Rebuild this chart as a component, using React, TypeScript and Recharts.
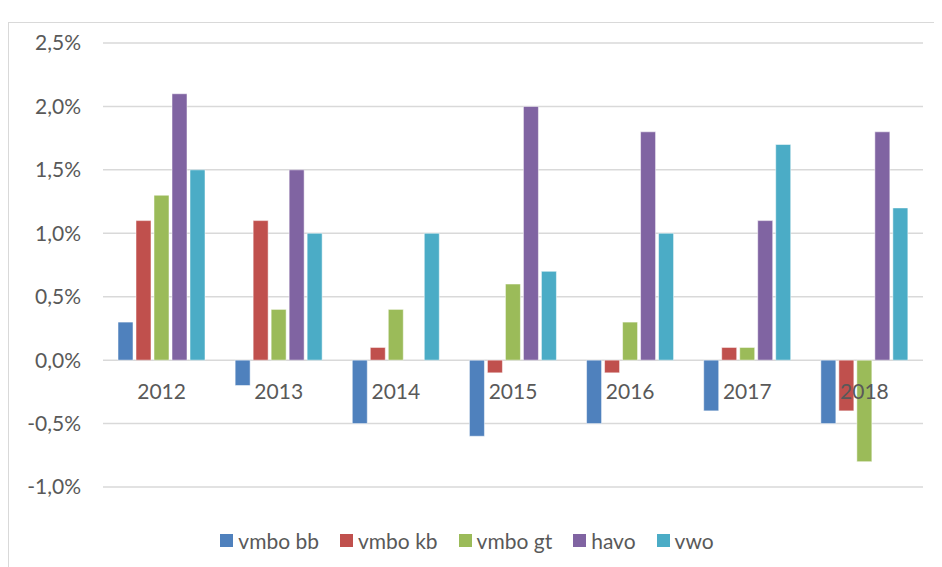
import { Bar, CartesianGrid, ComposedChart, LabelList, Line, XAxis, YAxis } from 'recharts';

const YEARS = ['2012', '2013', '2014', '2015', '2016', '2017', '2018'];

// change in percentage points
const VMBO_BB = [0.3, -0.2, -0.5, -0.6, -0.5, -0.4, -0.5];
const VMBO_KB = [1.1, 1.1, 0.1, -0.1, -0.1, 0.1, -0.4];
const VMBO_GT = [1.3, 0.4, 0.4, 0.6, 0.3, 0.1, -0.8];
const HAVO = [2.1, 1.5, 0, 2.0, 1.8, 1.1, 1.8];
const VWO = [1.5, 1.0, 1.0, 0.7, 1.0, 1.7, 1.2];

const Y_TICKS = [-1, -0.5, 0, 0.5, 1, 1.5, 2, 2.5];

const SERIES = [
  { key: 'vmboBb', name: 'vmbo bb', values: VMBO_BB, color: '#4F81BD' },
  { key: 'vmboKb', name: 'vmbo kb', values: VMBO_KB, color: '#C0504D' },
  { key: 'vmboGt', name: 'vmbo gt', values: VMBO_GT, color: '#9BBB59' },
  { key: 'havo', name: 'havo', values: HAVO, color: '#8064A2' },
  { key: 'vwo', name: 'vwo', values: VWO, color: '#4BACC6' },
];

const FONT = 'Lato, "Open Sans", sans-serif';
const FONT_SIZE = 21;
const TEXT = '#595959';
const GRID = '#D9D9D9';

const data = YEARS.map((year, i) => {
  const row: Record<string, string | number> = { year };
  SERIES.forEach((s) => {
    row[s.key] = s.values[i]!;
  });
  return row;
});

const formatPct = (v: number) => `${v.toFixed(1).replace('.', ',')}%`;

// Excel puts the category names just under the zero line, not at the bottom
function YearLabel(props: any) {
  const { x, y, value } = props;
  return (
    <text
      x={x}
      y={y + 30}
      textAnchor="middle"
      dominantBaseline="central"
      fill={TEXT}
      fontSize={FONT_SIZE}
      fontFamily={FONT}
    >
      {value}
    </text>
  );
}

export default function App() {
  return (
    <div
      style={{
        position: 'relative',
        width: 934,
        height: 559,
        overflow: 'hidden',
        background: '#fff',
        fontFamily: FONT,
      }}
    >
      <div
        style={{
          position: 'absolute',
          top: 14,
          left: 0,
          width: 960,
          height: 600,
          border: `1px solid ${GRID}`,
        }}
      />
      <div style={{ position: 'absolute', top: 0, left: 0 }}>
        <ComposedChart
          width={934}
          height={500}
          data={data}
          margin={{ top: 35, right: 19, bottom: 21, left: 0 }}
          barCategoryGap={15}
          barGap={3}
        >
          <CartesianGrid vertical={false} stroke={GRID} strokeWidth={1.5} />
          <XAxis dataKey="year" hide />
          <YAxis
            width={95}
            domain={[-1, 2.5]}
            ticks={Y_TICKS}
            tickFormatter={formatPct}
            axisLine={false}
            tickLine={false}
            tickSize={0}
            tickMargin={22}
            tick={{ fill: TEXT, fontSize: FONT_SIZE, fontFamily: FONT }}
          />
          {SERIES.map((s) => (
            <Bar
              key={s.key}
              dataKey={s.key}
              name={s.name}
              fill={s.color}
              stroke="rgba(255,255,255,0.5)"
              strokeWidth={1}
              isAnimationActive={false}
            />
          ))}
          <Line
            dataKey={() => 0}
            stroke="none"
            dot={false}
            activeDot={false}
            legendType="none"
            isAnimationActive={false}
          >
            <LabelList dataKey="year" content={YearLabel} />
          </Line>
        </ComposedChart>
      </div>
      <div
        style={{
          position: 'absolute',
          top: 518,
          left: 0,
          width: 918,
          display: 'flex',
          justifyContent: 'center',
          alignItems: 'center',
          height: 28,
        }}
      >
        {SERIES.map((s, i) => (
          <span
            key={s.key}
            style={{
              display: 'flex',
              alignItems: 'center',
              marginLeft: i === 0 ? 0 : 21,
              color: TEXT,
              fontSize: FONT_SIZE,
            }}
          >
            <span
              style={{
                width: 13,
                height: 13,
                background: s.color,
                marginRight: 5,
                display: 'inline-block',
              }}
            />
            {s.name}
          </span>
        ))}
      </div>
    </div>
  );
}
